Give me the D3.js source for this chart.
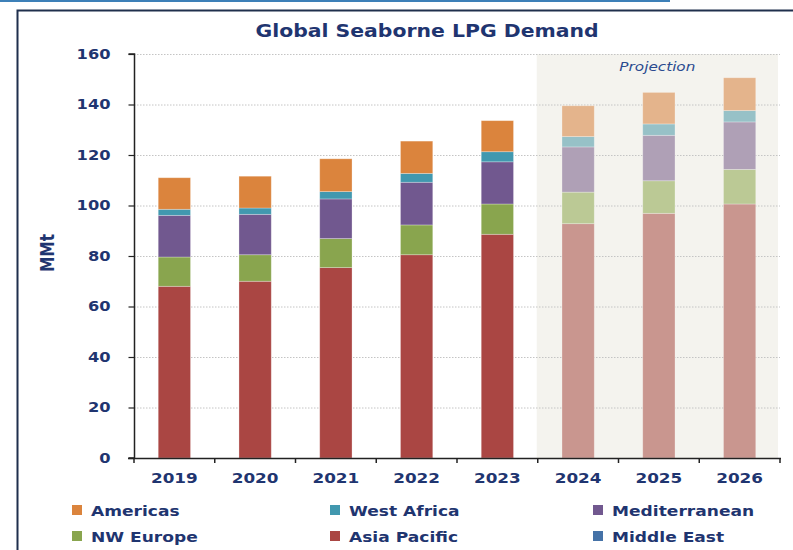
<!DOCTYPE html>
<html>
<head>
<meta charset="utf-8">
<script src="https://cdn.jsdelivr.net/npm/d3@7"></script>
<style>
  html, body { margin: 0; padding: 0; background: #fff; }
  svg { display: block; }
</style>
</head>
<body>
<svg id="chart" width="793" height="550"></svg>
<script>
// Seaborne LPG demand by importing region, million tonnes
const years = ["2019", "2020", "2021", "2022", "2023", "2024", "2025", "2026"];
const projectedYears = ["2024", "2025", "2026"];
const middleEast   = [0, 0, 0, 0, 0, 0, 0, 0];
const asiaPacific  = [68.0, 70.0, 75.4, 80.5, 88.6, 92.8, 96.9, 100.6];
const nwEurope     = [11.6, 10.5, 11.5, 11.8, 12.0, 12.5, 12.9, 13.7];
const mediterranean= [16.5, 16.0, 15.7, 16.9, 16.7, 17.9, 18.0, 18.8];
const westAfrica   = [2.4, 2.5, 2.9, 3.5, 4.0, 4.1, 4.5, 4.5];
const americas     = [12.5, 12.6, 13.0, 12.8, 12.3, 12.2, 12.5, 13.0];
const yTicks = [0, 20, 40, 60, 80, 100, 120, 140, 160];

const seriesDefs = [
  { key: "Middle East",   values: middleEast,    color: "#4572a7", light: "#a3b5cd" },
  { key: "Asia Pacific",  values: asiaPacific,   color: "#aa4643", light: "#c9968f" },
  { key: "NW Europe",     values: nwEurope,      color: "#89a54e", light: "#bbc995" },
  { key: "Mediterranean", values: mediterranean, color: "#71588f", light: "#afa0b6" },
  { key: "West Africa",   values: westAfrica,    color: "#4198af", light: "#97c1c7" },
  { key: "Americas",      values: americas,      color: "#db843d", light: "#e4b48c" }
];

const rows = years.map((y, i) => {
  const r = { year: y };
  seriesDefs.forEach(s => r[s.key] = s.values[i]);
  return r;
});

const svg = d3.select("#chart");
const navy = "#1f3570";
const font = "'DejaVu Sans', Verdana, sans-serif";
const STRETCH = 1.22;

// widen text horizontally about its anchor point
function stretch(sel, s = STRETCH) {
  sel.attr("transform", function() {
    const t = d3.select(this);
    const ax = +t.attr("x") || 0;
    return `translate(${ax},0) scale(${s},1) translate(${-ax},0)`;
  });
}

const x = d3.scaleBand().domain(years).range([134, 780]).paddingInner(0.6).paddingOuter(0.3);
const y = d3.scaleLinear().domain([0, 160]).range([458, 54]);

// page decorations: accent line and frame
svg.append("line").attr("x1", 0).attr("x2", 670).attr("y1", 1).attr("y2", 1)
  .attr("stroke", "#3d80b8").attr("stroke-width", 2);
svg.append("path").attr("d", "M17.5,560 V10.5 H800")
  .attr("fill", "none").attr("stroke", "#1f2f4d").attr("stroke-width", 2);

// title
svg.append("text").attr("x", 427).attr("y", 37).attr("text-anchor", "middle")
  .attr("font-family", font).attr("font-weight", 700).attr("font-size", 17)
  .attr("fill", navy).text("Global Seaborne LPG Demand").call(stretch, 1.2);

// projection shading
const projStart = x(projectedYears[0]) - x.step() * x.paddingInner() / 2 - 1;
svg.append("rect").attr("x", projStart).attr("y", y(160))
  .attr("width", 778 - projStart).attr("height", y(0) - y(160))
  .attr("fill", "#f4f3ee");
svg.append("text")
  .attr("x", (projStart + 778) / 2).attr("y", 71).attr("text-anchor", "middle")
  .attr("font-family", font).attr("font-style", "italic")
  .attr("font-size", 12.5).attr("fill", "#2a4a8f").text("Projection").call(stretch);

// gridlines
svg.append("g").selectAll("line").data(yTicks.filter(t => t > 0)).join("line")
  .attr("x1", 134).attr("x2", 780)
  .attr("y1", d => y(d) + 0.5).attr("y2", d => y(d) + 0.5)
  .attr("stroke", "#c4c4c4").attr("stroke-width", 1).attr("stroke-dasharray", "1.5,1.5");

// stacked bars
const stack = d3.stack().keys(seriesDefs.map(s => s.key));
const stacked = stack(rows);
const isProj = yr => projectedYears.includes(yr);

svg.append("g").selectAll("g").data(stacked).join("g")
  .each(function(layer, li) {
    const def = seriesDefs[li];
    d3.select(this).selectAll("rect").data(layer).join("rect")
      .attr("x", d => x(d.data.year))
      .attr("width", x.bandwidth())
      .attr("y", d => y(d[1]))
      .attr("height", d => Math.max(0, y(d[0]) - y(d[1])))
      .attr("fill", d => isProj(d.data.year) ? def.light : def.color)
      .attr("stroke", "rgba(255,255,255,0.35)")
      .attr("stroke-width", d => (d[1] - d[0]) > 0 ? 0.8 : 0);
  });

// y axis
const yAxis = d3.axisLeft(y).tickValues(yTicks).tickSize(6).tickPadding(18);
const gy = svg.append("g").attr("transform", "translate(134.5,0)").call(yAxis);
gy.select(".domain").attr("stroke", "#222").attr("stroke-width", 1.5).attr("d", "M-6,54H0V458H-6");
gy.selectAll(".tick line").attr("stroke", "#222").attr("stroke-width", 1.2);
gy.selectAll(".tick text").attr("font-family", font).attr("font-weight", 700)
  .attr("font-size", 14).attr("fill", navy).call(stretch, 1.16);

// x axis with ticks on category boundaries
const gx = svg.append("g").attr("transform", "translate(0,458.5)");
gx.append("line").attr("x1", 128).attr("x2", 781).attr("y1", 0).attr("y2", 0)
  .attr("stroke", "#222").attr("stroke-width", 1.5);
const boundaries = d3.range(years.length + 1).map(i => 134 + i * x.step());
gx.selectAll("line.b").data(boundaries).join("line").attr("class", "b")
  .attr("x1", d => d).attr("x2", d => d).attr("y1", 0).attr("y2", 4.5)
  .attr("stroke", "#222").attr("stroke-width", 1.5);
gx.selectAll("text").data(years).join("text")
  .attr("x", d => x(d) + x.bandwidth() / 2).attr("y", 25).attr("text-anchor", "middle")
  .attr("font-family", font).attr("font-weight", 700).attr("font-size", 14.5)
  .attr("fill", navy).text(d => d).call(stretch, 1.16);

// y axis title
svg.append("text").attr("transform", `translate(54,253) scale(${STRETCH},1) rotate(-90)`)
  .attr("text-anchor", "middle").attr("font-family", font)
  .attr("font-weight", 700).attr("font-size", 15.5).attr("fill", navy).text("MMt");

// legend
const legendOrder = ["Americas", "West Africa", "Mediterranean", "NW Europe", "Asia Pacific", "Middle East"];
const colX = [72, 330, 593];
const rowY = [511, 537];
const lg = svg.append("g").selectAll("g").data(legendOrder).join("g")
  .attr("transform", (d, i) => `translate(${colX[i % 3]},${rowY[Math.floor(i / 3)]})`);
lg.append("rect").attr("x", 0).attr("y", -6).attr("width", 10).attr("height", 10)
  .attr("fill", d => seriesDefs.find(s => s.key === d).color);
lg.append("text").attr("x", 19).attr("y", 5)
  .attr("font-family", font).attr("font-weight", 700).attr("font-size", 14)
  .attr("fill", navy).text(d => d).call(stretch);
</script>
</body>
</html>
